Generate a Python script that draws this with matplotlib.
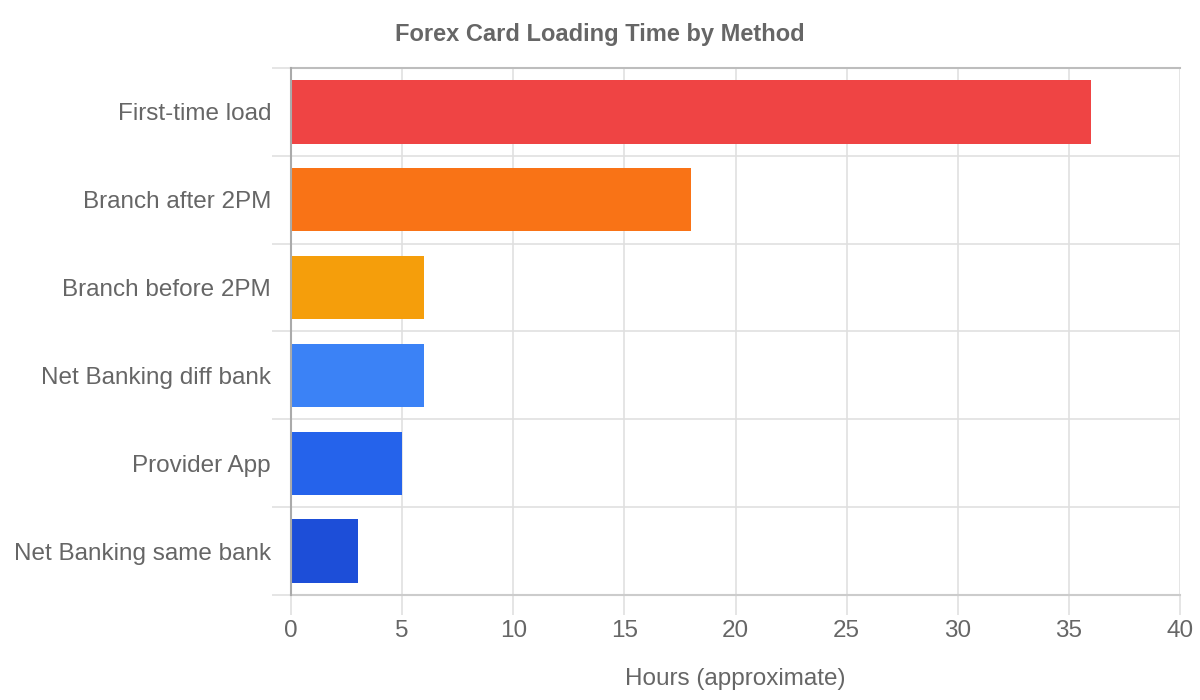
import matplotlib
matplotlib.use("Agg")
import matplotlib.pyplot as plt
import numpy as np

categories = ["First-time load", "Branch after 2PM", "Branch before 2PM",
              "Net Banking diff bank", "Provider App", "Net Banking same bank"]
hours = [36, 18, 6, 6, 5, 3]
colors = ["#EF4444", "#F97316", "#F59E0B", "#3B82F6", "#2563EB", "#1D4ED8"]
x_ticks = [0, 5, 10, 15, 20, 25, 30, 35, 40]

plt.rcParams['font.family'] = ['Liberation Sans', 'DejaVu Sans']
txt = "#666666"
grid_c = "#e0e0e0"

fig = plt.figure(figsize=(12, 7), dpi=100)
ax = fig.add_axes([291/1200, 1-595/700, (1180-291)/1200, (595-68)/700])

y = np.arange(len(categories))
ax.barh(y, hours, height=0.72, color=colors, zorder=3)

ax.set_xlim(0, 40)
ax.set_ylim(len(categories)-0.5, -0.5)

ax.set_xticks(x_ticks)
ax.set_xticklabels([str(v) for v in x_ticks], fontsize=17.5, color=txt)
ax.set_yticks(y)
ax.set_yticklabels(categories, fontsize=17.5, color=txt)
ax.set_yticks(np.arange(-0.5, len(categories)), minor=True)

px = 72/100
ax.tick_params(axis='x', which='major', length=20*px, width=1.2, color=grid_c, pad=5*px)
ax.tick_params(axis='y', which='major', length=0, pad=20*px)
ax.tick_params(axis='y', which='minor', length=19*px, width=1.2, color=grid_c)

ax.grid(axis='x', which='major', color=grid_c, linewidth=1.2, zorder=0)
ax.grid(axis='y', which='minor', color=grid_c, linewidth=1.2, zorder=0)

ax.spines['right'].set_visible(False)
ax.spines['left'].set_color('#aaaaaa')
ax.spines['left'].set_linewidth(1.5)
ax.spines['top'].set_color('#bdbdbd')
ax.spines['top'].set_linewidth(1.5)
ax.spines['bottom'].set_color('#cccccc')
ax.spines['bottom'].set_linewidth(1.5)
ax.spines['left'].set_zorder(4)

ax.set_xlabel("Hours (approximate)", fontsize=17.5, color=txt, labelpad=26*px)
fig.text(0.5, 1-35/700, "Forex Card Loading Time by Method", ha='center', va='center',
         fontsize=17, fontweight='bold', color=txt)

fig.savefig("out.png", dpi=100)
